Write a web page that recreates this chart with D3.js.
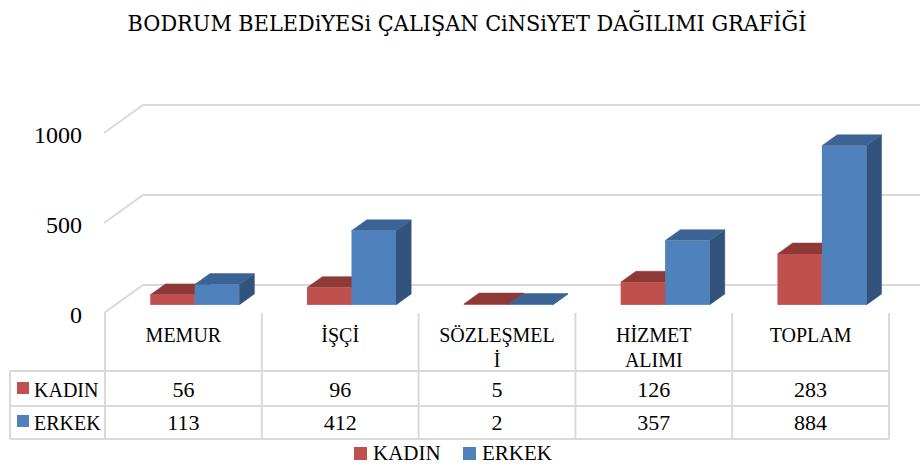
<!DOCTYPE html>
<html><head><meta charset="utf-8">
<script src="https://cdn.jsdelivr.net/npm/d3@7/dist/d3.min.js"></script>
<style>
body{margin:0;background:#fff;}
svg{display:block;}
text{font-family:"Liberation Serif","Times New Roman",serif;fill:#000;}
</style></head>
<body><svg id="chart" width="920" height="468"></svg>
<script>
const title = "BODRUM BELEDiYESi ÇALIŞAN CiNSiYET DAĞILIMI GRAFİĞİ";
const categories = ["MEMUR","İŞÇİ","SÖZLEŞMELİ","HİZMET ALIMI","TOPLAM"];
const categoryLabelLines = [["MEMUR"],["İŞÇİ"],["SÖZLEŞMEL","İ"],["HİZMET","ALIMI"],["TOPLAM"]];
const seriesNames = ["KADIN","ERKEK"];
const kadin = [56,96,5,126,283];
const erkek = [113,412,2,357,884];
const yTicks = [0,500,1000];

const seriesValues = [kadin, erkek];
const colors = {
  KADIN:{front:"#C0504D", top:"#8F3937", side:"#7E302E"},
  ERKEK:{front:"#4F81BD", top:"#3B6494", side:"#31537C"}
};

// pick a condensed serif for the title if available
function fontAvailable(name){
  const c = document.createElement("canvas").getContext("2d");
  const s = "BODRUM BELEDiYESi ÇALIŞAN mmmmWWWiii";
  c.font = "40px monospace"; const a = c.measureText(s).width;
  c.font = `40px "${name}", monospace`; const b = c.measureText(s).width;
  return Math.abs(a-b) > 0.5;
}
const titleFont = fontAvailable("DejaVu Serif Condensed") ? '"DejaVu Serif Condensed"' : '"Liberation Serif", serif';

const svg = d3.select("#chart");
const W = 920;

const frontY0 = 313;
const depthDX = 39, depthDY = -28;
const tableLeft = 10, plotLeft = 105, plotRight = 889;
const y = d3.scaleLinear().domain([0,1000]).range([0,180]);
const x = d3.scaleBand().domain(categories).range([plotLeft, plotRight]);
const bw = x.bandwidth();
const xs = d3.scaleBand().domain(seriesNames).range([bw*0.2165, bw*0.7835]);
const f1 = 0.29, f2 = 0.68;

const grid = "#D9D9D9";

const gG = svg.append("g");
yTicks.forEach(v => {
  const fy = frontY0 - y(v);
  const bx = 104 + depthDX, by = fy + depthDY;
  gG.append("path")
    .attr("d", `M104,${fy}L${bx},${by}L${W},${by}`)
    .attr("fill","none").attr("stroke",grid).attr("stroke-width",2);
});

svg.append("g").selectAll("text").data(yTicks).join("text")
  .attr("x",82).attr("y",d => frontY0 - y(d) + 10)
  .attr("text-anchor","end").style("font-size","24px")
  .text(d => d);

const bG = svg.append("g");
categories.forEach((c, i) => {
  seriesNames.forEach((s, j) => {
    const v = seriesValues[j][i];
    const h = y(v);
    const x0 = x(c) + xs(s) + f1*depthDX;
    const x1 = x0 + xs.bandwidth();
    const yb = frontY0 + f1*depthDY;
    const yt = yb - h;
    const ddx = (f2-f1)*depthDX, ddy = (f2-f1)*depthDY;
    const col = colors[s];
    bG.append("path")
      .attr("d",`M${x1},${yb}L${x1+ddx},${yb+ddy}L${x1+ddx},${yt+ddy}L${x1},${yt}Z`)
      .attr("fill",col.side).attr("stroke",col.side).attr("stroke-width",0.5);
    bG.append("path")
      .attr("d",`M${x0},${yt}L${x0+ddx},${yt+ddy}L${x1+ddx},${yt+ddy}L${x1},${yt}Z`)
      .attr("fill",col.top).attr("stroke",col.top).attr("stroke-width",0.5);
    bG.append("rect")
      .attr("x",x0).attr("y",yt).attr("width",x1-x0).attr("height",h)
      .attr("fill",col.front);
  });
});

const tG = svg.append("g");
const rowTop = 371, tableBottom = 439;
const rowYs = [rowTop, rowTop+35, tableBottom];
const lineAttr = sel => sel.attr("stroke",grid).attr("stroke-width",2);
categories.concat(["__end"]).forEach((c,i) => {
  const xx = i < categories.length ? x(c) : plotRight;
  lineAttr(tG.append("line").attr("x1",xx).attr("x2",xx).attr("y1",frontY0).attr("y2",tableBottom));
});
lineAttr(tG.append("line").attr("x1",tableLeft).attr("x2",tableLeft).attr("y1",rowTop).attr("y2",tableBottom));
rowYs.forEach(yy => lineAttr(tG.append("line").attr("x1",tableLeft).attr("x2",plotRight).attr("y1",yy).attr("y2",yy)));

categories.forEach((c,i) => {
  const t = tG.append("text").attr("text-anchor","middle").style("font-size","20px");
  categoryLabelLines[i].forEach((ln,k) => {
    t.append("tspan").attr("x", x(c)+bw/2).attr("y", 342 + k*25).text(ln);
  });
});

const rowBaselines = [397, 430];
seriesNames.forEach((s,j) => {
  const sqY = rowBaselines[j] - 15;
  tG.append("rect").attr("x",17).attr("y",sqY).attr("width",12).attr("height",12).attr("fill",colors[s].front);
  tG.append("text").attr("x",34).attr("y",rowBaselines[j]).style("font-size","20px").text(s);
  categories.forEach((c,i) => {
    tG.append("text").attr("x",x(c)+bw/2).attr("y",rowBaselines[j])
      .attr("text-anchor","middle").style("font-size","22px").text(seriesValues[j][i]);
  });
});

const lG = svg.append("g");
const legX = [354, 463];
seriesNames.forEach((s,j) => {
  lG.append("rect").attr("x",legX[j]).attr("y",447).attr("width",13).attr("height",13).attr("fill",colors[s].front);
  lG.append("text").attr("x",legX[j]+19).attr("y",460).style("font-size","21px").text(s);
});

const tt = svg.append("text").attr("x",467).attr("y",31).attr("text-anchor","middle")
  .style("font-family", titleFont).style("font-size","26px").text(title);
const tw = tt.node().getComputedTextLength();
tt.style("font-size", (26*679/tw).toFixed(2)+"px");
</script>
</body></html>
